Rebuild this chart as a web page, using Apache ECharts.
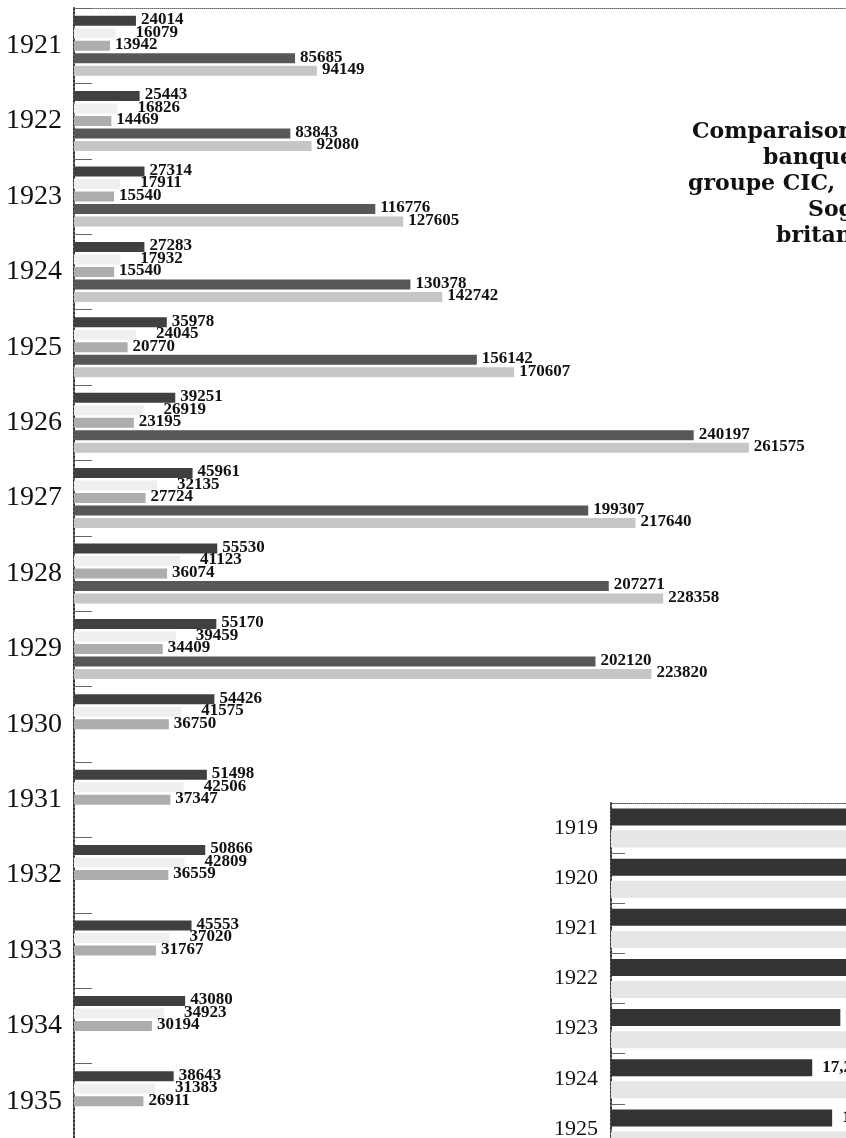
<!DOCTYPE html>
<html>
<head>
<meta charset="utf-8">
<script src="https://cdn.jsdelivr.net/npm/echarts@6/dist/echarts.min.js"></script>
<style>
  html, body { margin: 0; padding: 0; background: #fff; }
  #chart { width: 846px; height: 1138px; }
</style>
</head>
<body>
<div id="chart"></div>
<script>
// main chart: five series per year, 1921-1935
const years = ['1921', '1922', '1923', '1924', '1925', '1926', '1927', '1928',
  '1929', '1930', '1931', '1932', '1933', '1934', '1935'];
const serie1 = [24014, 25443, 27314, 27283, 35978, 39251, 45961, 55530, 55170, 54426, 51498, 50866, 45553, 43080, 38643];
const serie2 = [16079, 16826, 17911, 17932, 24045, 26919, 32135, 41123, 39459, 41575, 42506, 42809, 37020, 34923, 31383];
const serie3 = [13942, 14469, 15540, 15540, 20770, 23195, 27724, 36074, 34409, 36750, 37347, 36559, 31767, 30194, 26911];
const serie4 = [85685, 83843, 116776, 130378, 156142, 240197, 199307, 207271, 202120, null, null, null, null, null, null];
const serie5 = [94149, 92080, 127605, 142742, 170607, 261575, 217640, 228358, 223820, null, null, null, null, null, null];

// inset chart, 1919-1925 (values past the crop edge are estimates)
const insetYears = ['1919', '1920', '1921', '1922', '1923', '1924', '1925'];
const insetDark = [22.5, 23.1, 21.8, 21.0, 19.6, 17.2, 18.9];
const insetLight = [25.4, 26.0, 24.7, 23.9, 22.6, 21.5, 22.3];

const titleLines = ['Comparaison', 'banques', 'groupe CIC,', 'Sogénal', 'britanniques'];

const serif = 'Liberation Serif';
const chart = echarts.init(document.getElementById('chart'));

const mainColors = ['#404040', '#efefef', '#adadad', '#575757', '#c6c6c6'];
const mainData = [serie1, serie2, serie3, serie4, serie5];

const labelStyle = (dist) => ({
  show: true,
  position: 'right',
  distance: dist,
  offset: [0, -1],
  color: '#111',
  fontFamily: serif,
  fontWeight: 'bold',
  fontSize: 17
});

const mainSeries = mainData.map((d, i) => ({
  type: 'bar',
  xAxisIndex: 0,
  yAxisIndex: 0,
  data: d,
  barWidth: 10,
  barGap: '25%',
  itemStyle: { color: mainColors[i] },
  label: labelStyle(i === 1 ? 20 : 5),
  silent: true
}));

const insetLabel = {
  show: true,
  position: 'right',
  distance: 10,
  color: '#111',
  fontFamily: serif,
  fontWeight: 'bold',
  fontSize: 17,
  formatter: (p) => p.value.toFixed(1).replace('.', ',')
};

const option = {
  animation: false,
  backgroundColor: '#fff',
  grid: [
    { left: 74, top: 8, width: 774, height: 1131, outerBoundsMode: 'none', containLabel: false },
    { left: 611, top: 803, width: 468, height: 351, outerBoundsMode: 'none', containLabel: false }
  ],
  xAxis: [
    {
      gridIndex: 0, type: 'value', position: 'top', min: 0, max: 300000,
      axisLine: { show: true, lineStyle: { color: '#666', width: 1, type: 'dotted' } },
      axisTick: { show: false }, axisLabel: { show: false }, splitLine: { show: false }
    },
    {
      gridIndex: 1, type: 'value', position: 'top', min: 0, max: 40,
      axisLine: { show: true, lineStyle: { color: '#555', width: 1, type: 'dotted' } },
      axisTick: { show: false }, axisLabel: { show: false }, splitLine: { show: false }
    }
  ],
  yAxis: [
    {
      gridIndex: 0, type: 'category', data: years, inverse: true,
      axisLine: { show: true, lineStyle: { color: '#333', width: 2, type: 'dotted' } },
      axisTick: { show: true, inside: true, length: 18, lineStyle: { color: '#666', width: 1 } },
      axisLabel: { color: '#111', fontFamily: serif, fontSize: 28, margin: 12, padding: [0, 0, 5, 0] },
      splitLine: { show: false }
    },
    {
      gridIndex: 1, type: 'category', data: insetYears, inverse: true,
      axisLine: { show: true, lineStyle: { color: '#333', width: 2, type: 'dotted' } },
      axisTick: { show: true, inside: true, length: 14, lineStyle: { color: '#666', width: 1 } },
      axisLabel: { color: '#111', fontFamily: serif, fontSize: 22, margin: 13, padding: [0, 0, 4, 0] },
      splitLine: { show: false }
    }
  ],
  series: mainSeries.concat([
    {
      type: 'bar', xAxisIndex: 1, yAxisIndex: 1, data: insetDark,
      barWidth: 17, barGap: '30%', itemStyle: { color: '#333' }, label: insetLabel, silent: true
    },
    {
      type: 'bar', xAxisIndex: 1, yAxisIndex: 1, data: insetLight,
      barWidth: 17, barGap: '30%', itemStyle: { color: '#e6e6e6' }, label: insetLabel, silent: true
    }
  ]),
  graphic: titleLines.map((t, i) => ({
    type: 'text',
    left: [692, 763, 688, 808, 776][i],
    top: 121 + i * 26,
    style: {
      text: t,
      fill: '#111',
      font: 'bold 22px "DejaVu Serif"'
    }
  }))
};

chart.setOption(option);
</script>
</body>
</html>
